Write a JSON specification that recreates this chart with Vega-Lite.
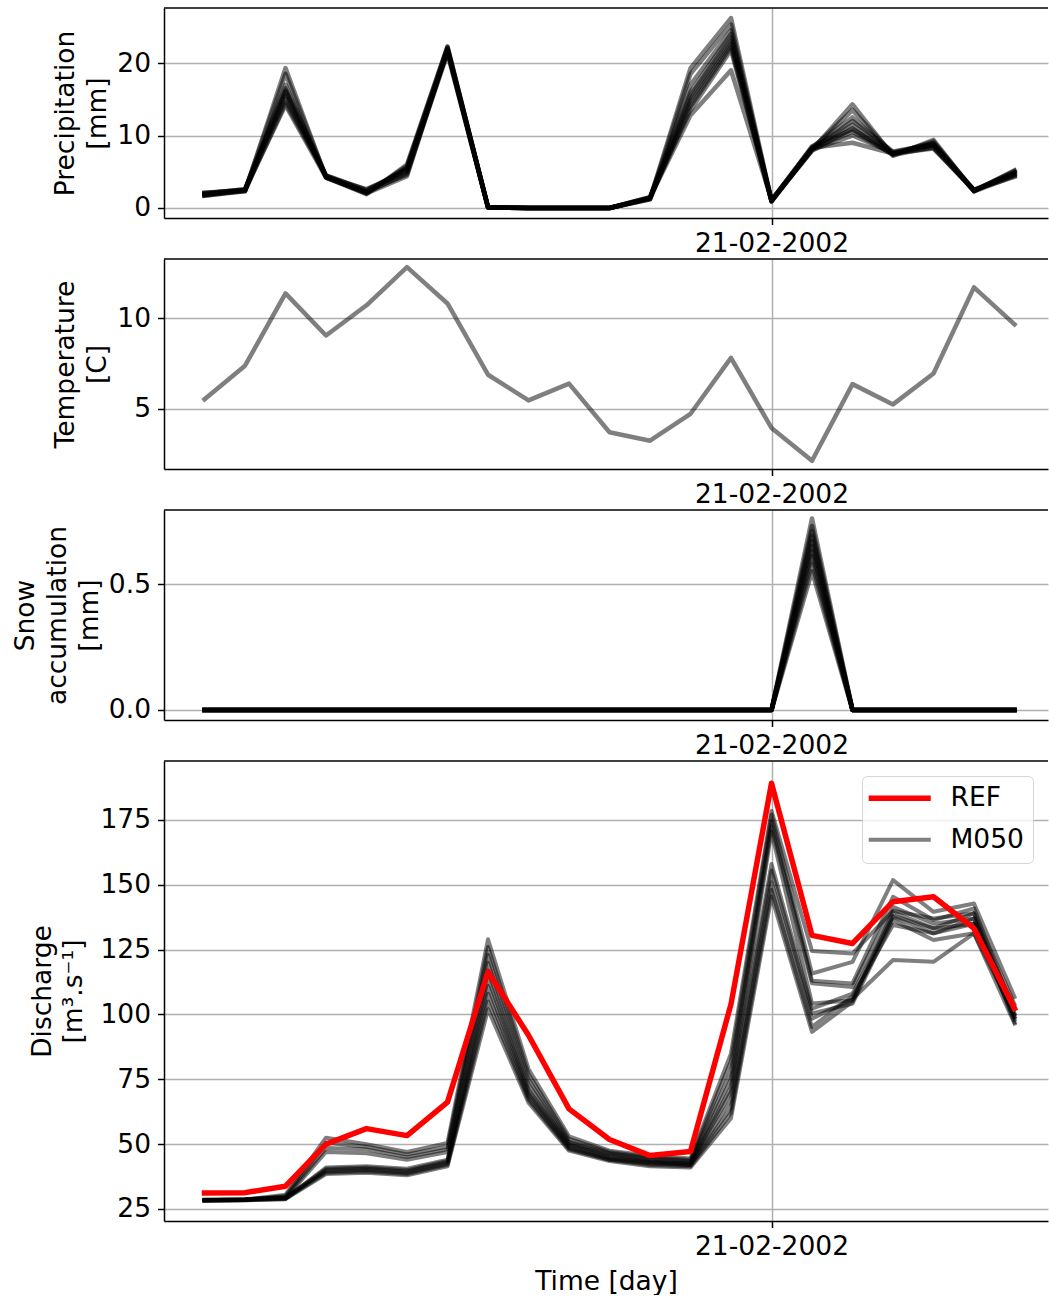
{
  "$schema": "https://vega.github.io/schema/vega-lite/v6.json",
  "padding": {"left": 12, "top": 7, "right": 0, "bottom": 0},
  "bounds": "flush",
  "spacing": 41,
  "config": {
    "font": "DejaVu Sans",
    "view": {"stroke": null},
    "axis": {
      "labelFont": "DejaVu Sans",
      "titleFont": "DejaVu Sans",
      "labelFontSize": 26.5,
      "titleFontSize": 26.5,
      "titleFontWeight": "normal",
      "labelColor": "#000000",
      "titleColor": "#000000",
      "tickColor": "#000000",
      "tickSize": 6.5,
      "tickWidth": 1.5,
      "domainColor": "#000000",
      "domainWidth": 1.5,
      "gridColor": "#b0b0b0",
      "gridWidth": 1.5,
      "labelPadding": 7,
      "titleLineHeight": 31.8,
      "titlePadding": 5
    }
  },
  "datasets": {
    "precip": [
      {"date": "2002-02-07", "m01": 1.7, "m02": 1.8, "m03": 1.9, "m04": 2.0, "m05": 2.1, "m06": 1.8, "m07": 1.9, "m08": 2.0, "m09": 1.7, "m10": 2.1},
      {"date": "2002-02-08", "m01": 2.3, "m02": 2.4, "m03": 2.5, "m04": 2.6, "m05": 2.4, "m06": 2.5, "m07": 2.3, "m08": 2.6, "m09": 2.4, "m10": 2.5},
      {"date": "2002-02-09", "m01": 19.3, "m02": 18.5, "m03": 17.0, "m04": 16.5, "m05": 16.2, "m06": 16.0, "m07": 15.5, "m08": 15.0, "m09": 14.5, "m10": 14.2},
      {"date": "2002-02-10", "m01": 4.2, "m02": 4.3, "m03": 4.4, "m04": 4.5, "m05": 4.3, "m06": 4.2, "m07": 4.4, "m08": 4.3, "m09": 4.5, "m10": 4.2},
      {"date": "2002-02-11", "m01": 1.9, "m02": 2.0, "m03": 2.2, "m04": 2.4, "m05": 2.6, "m06": 2.1, "m07": 2.3, "m08": 2.0, "m09": 2.5, "m10": 2.2},
      {"date": "2002-02-12", "m01": 6.0, "m02": 5.8, "m03": 5.5, "m04": 5.2, "m05": 5.0, "m06": 4.8, "m07": 4.6, "m08": 4.4, "m09": 5.3, "m10": 5.6},
      {"date": "2002-02-13", "m01": 22.3, "m02": 22.1, "m03": 21.9, "m04": 21.7, "m05": 21.5, "m06": 21.3, "m07": 22.0, "m08": 21.8, "m09": 21.6, "m10": 22.2},
      {"date": "2002-02-14", "m01": 0.1, "m02": 0.05, "m03": 0.15, "m04": 0.1, "m05": 0.1, "m06": 0.05, "m07": 0.1, "m08": 0.15, "m09": 0.1, "m10": 0.1},
      {"date": "2002-02-15", "m01": 0, "m02": 0, "m03": 0, "m04": 0, "m05": 0, "m06": 0, "m07": 0, "m08": 0, "m09": 0, "m10": 0},
      {"date": "2002-02-16", "m01": 0, "m02": 0, "m03": 0, "m04": 0, "m05": 0, "m06": 0, "m07": 0, "m08": 0, "m09": 0, "m10": 0},
      {"date": "2002-02-17", "m01": 0, "m02": 0, "m03": 0, "m04": 0, "m05": 0, "m06": 0, "m07": 0, "m08": 0, "m09": 0, "m10": 0},
      {"date": "2002-02-18", "m01": 1.3, "m02": 1.2, "m03": 1.4, "m04": 1.5, "m05": 1.3, "m06": 1.2, "m07": 1.4, "m08": 1.3, "m09": 1.5, "m10": 1.4},
      {"date": "2002-02-19", "m01": 19.3, "m02": 18.5, "m03": 17.0, "m04": 16.0, "m05": 15.5, "m06": 15.0, "m07": 14.5, "m08": 14.0, "m09": 13.5, "m10": 12.8},
      {"date": "2002-02-20", "m01": 26.2, "m02": 25.3, "m03": 24.5, "m04": 24.0, "m05": 23.5, "m06": 23.0, "m07": 22.6, "m08": 22.2, "m09": 21.8, "m10": 19.0},
      {"date": "2002-02-21", "m01": 1.0, "m02": 0.9, "m03": 1.1, "m04": 1.0, "m05": 0.9, "m06": 1.1, "m07": 1.0, "m08": 1.0, "m09": 0.9, "m10": 1.1},
      {"date": "2002-02-22", "m01": 8.0, "m02": 8.2, "m03": 8.4, "m04": 8.1, "m05": 8.3, "m06": 7.9, "m07": 8.5, "m08": 8.2, "m09": 8.0, "m10": 8.3},
      {"date": "2002-02-23", "m01": 14.3, "m02": 13.5, "m03": 12.5, "m04": 12.0, "m05": 11.5, "m06": 11.0, "m07": 10.8, "m08": 10.5, "m09": 10.0, "m10": 9.0},
      {"date": "2002-02-24", "m01": 7.2, "m02": 7.4, "m03": 7.6, "m04": 7.8, "m05": 7.5, "m06": 7.3, "m07": 7.7, "m08": 7.4, "m09": 7.6, "m10": 7.5},
      {"date": "2002-02-25", "m01": 9.4, "m02": 9.2, "m03": 9.0, "m04": 8.8, "m05": 8.6, "m06": 8.4, "m07": 8.7, "m08": 8.9, "m09": 8.3, "m10": 8.2},
      {"date": "2002-02-26", "m01": 2.3, "m02": 2.4, "m03": 2.5, "m04": 2.4, "m05": 2.3, "m06": 2.5, "m07": 2.4, "m08": 2.3, "m09": 2.4, "m10": 2.5},
      {"date": "2002-02-27", "m01": 5.2, "m02": 5.0, "m03": 4.8, "m04": 4.6, "m05": 4.4, "m06": 4.3, "m07": 5.1, "m08": 4.9, "m09": 4.7, "m10": 4.5}
    ],
    "temp": [
      {"date": "2002-02-07", "t": 5.52},
      {"date": "2002-02-08", "t": 7.38},
      {"date": "2002-02-09", "t": 11.38},
      {"date": "2002-02-10", "t": 9.05},
      {"date": "2002-02-11", "t": 10.72},
      {"date": "2002-02-12", "t": 12.83},
      {"date": "2002-02-13", "t": 10.82},
      {"date": "2002-02-14", "t": 6.88},
      {"date": "2002-02-15", "t": 5.46},
      {"date": "2002-02-16", "t": 6.39},
      {"date": "2002-02-17", "t": 3.7},
      {"date": "2002-02-18", "t": 3.23},
      {"date": "2002-02-19", "t": 4.72},
      {"date": "2002-02-20", "t": 7.81},
      {"date": "2002-02-21", "t": 3.94},
      {"date": "2002-02-22", "t": 2.12},
      {"date": "2002-02-23", "t": 6.36},
      {"date": "2002-02-24", "t": 5.24},
      {"date": "2002-02-25", "t": 6.95},
      {"date": "2002-02-26", "t": 11.71},
      {"date": "2002-02-27", "t": 9.67}
    ],
    "snow": [
      {"date": "2002-02-07", "m01": 0, "m02": 0, "m03": 0, "m04": 0, "m05": 0, "m06": 0, "m07": 0, "m08": 0, "m09": 0, "m10": 0},
      {"date": "2002-02-08", "m01": 0, "m02": 0, "m03": 0, "m04": 0, "m05": 0, "m06": 0, "m07": 0, "m08": 0, "m09": 0, "m10": 0},
      {"date": "2002-02-09", "m01": 0, "m02": 0, "m03": 0, "m04": 0, "m05": 0, "m06": 0, "m07": 0, "m08": 0, "m09": 0, "m10": 0},
      {"date": "2002-02-10", "m01": 0, "m02": 0, "m03": 0, "m04": 0, "m05": 0, "m06": 0, "m07": 0, "m08": 0, "m09": 0, "m10": 0},
      {"date": "2002-02-11", "m01": 0, "m02": 0, "m03": 0, "m04": 0, "m05": 0, "m06": 0, "m07": 0, "m08": 0, "m09": 0, "m10": 0},
      {"date": "2002-02-12", "m01": 0, "m02": 0, "m03": 0, "m04": 0, "m05": 0, "m06": 0, "m07": 0, "m08": 0, "m09": 0, "m10": 0},
      {"date": "2002-02-13", "m01": 0, "m02": 0, "m03": 0, "m04": 0, "m05": 0, "m06": 0, "m07": 0, "m08": 0, "m09": 0, "m10": 0},
      {"date": "2002-02-14", "m01": 0, "m02": 0, "m03": 0, "m04": 0, "m05": 0, "m06": 0, "m07": 0, "m08": 0, "m09": 0, "m10": 0},
      {"date": "2002-02-15", "m01": 0, "m02": 0, "m03": 0, "m04": 0, "m05": 0, "m06": 0, "m07": 0, "m08": 0, "m09": 0, "m10": 0},
      {"date": "2002-02-16", "m01": 0, "m02": 0, "m03": 0, "m04": 0, "m05": 0, "m06": 0, "m07": 0, "m08": 0, "m09": 0, "m10": 0},
      {"date": "2002-02-17", "m01": 0, "m02": 0, "m03": 0, "m04": 0, "m05": 0, "m06": 0, "m07": 0, "m08": 0, "m09": 0, "m10": 0},
      {"date": "2002-02-18", "m01": 0, "m02": 0, "m03": 0, "m04": 0, "m05": 0, "m06": 0, "m07": 0, "m08": 0, "m09": 0, "m10": 0},
      {"date": "2002-02-19", "m01": 0, "m02": 0, "m03": 0, "m04": 0, "m05": 0, "m06": 0, "m07": 0, "m08": 0, "m09": 0, "m10": 0},
      {"date": "2002-02-20", "m01": 0, "m02": 0, "m03": 0, "m04": 0, "m05": 0, "m06": 0, "m07": 0, "m08": 0, "m09": 0, "m10": 0},
      {"date": "2002-02-21", "m01": 0, "m02": 0, "m03": 0, "m04": 0, "m05": 0, "m06": 0, "m07": 0, "m08": 0, "m09": 0, "m10": 0},
      {"date": "2002-02-22", "m01": 0.76, "m02": 0.73, "m03": 0.71, "m04": 0.69, "m05": 0.67, "m06": 0.65, "m07": 0.63, "m08": 0.61, "m09": 0.58, "m10": 0.55},
      {"date": "2002-02-23", "m01": 0, "m02": 0, "m03": 0, "m04": 0, "m05": 0, "m06": 0, "m07": 0, "m08": 0, "m09": 0, "m10": 0},
      {"date": "2002-02-24", "m01": 0, "m02": 0, "m03": 0, "m04": 0, "m05": 0, "m06": 0, "m07": 0, "m08": 0, "m09": 0, "m10": 0},
      {"date": "2002-02-25", "m01": 0, "m02": 0, "m03": 0, "m04": 0, "m05": 0, "m06": 0, "m07": 0, "m08": 0, "m09": 0, "m10": 0},
      {"date": "2002-02-26", "m01": 0, "m02": 0, "m03": 0, "m04": 0, "m05": 0, "m06": 0, "m07": 0, "m08": 0, "m09": 0, "m10": 0},
      {"date": "2002-02-27", "m01": 0, "m02": 0, "m03": 0, "m04": 0, "m05": 0, "m06": 0, "m07": 0, "m08": 0, "m09": 0, "m10": 0}
    ],
    "discharge": [
      {"date": "2002-02-07", "ref": 31.2, "m01": 28.5, "m02": 28.3, "m03": 28.6, "m04": 28.4, "m05": 28.2, "m06": 28.5, "m07": 28.3, "m08": 28.6, "m09": 28.4, "m10": 28.2},
      {"date": "2002-02-08", "ref": 31.3, "m01": 28.6, "m02": 28.5, "m03": 28.8, "m04": 28.7, "m05": 28.4, "m06": 28.6, "m07": 28.5, "m08": 28.8, "m09": 28.7, "m10": 28.4},
      {"date": "2002-02-09", "ref": 33.8, "m01": 30.5, "m02": 30.0, "m03": 29.5, "m04": 29.2, "m05": 29.0, "m06": 29.4, "m07": 28.9, "m08": 29.6, "m09": 29.1, "m10": 28.8},
      {"date": "2002-02-10", "ref": 50.0, "m01": 52.5, "m02": 50.5, "m03": 48.5, "m04": 47.0, "m05": 41.0, "m06": 40.5, "m07": 40.0, "m08": 39.5, "m09": 39.0, "m10": 38.5},
      {"date": "2002-02-11", "ref": 56.0, "m01": 50.0, "m02": 49.0, "m03": 48.0, "m04": 46.5, "m05": 41.5, "m06": 41.0, "m07": 40.5, "m08": 40.0, "m09": 39.5, "m10": 39.0},
      {"date": "2002-02-12", "ref": 53.3, "m01": 47.0, "m02": 46.0, "m03": 45.0, "m04": 44.0, "m05": 40.5, "m06": 40.0, "m07": 39.5, "m08": 39.0, "m09": 38.5, "m10": 38.0},
      {"date": "2002-02-13", "ref": 66.2, "m01": 50.5, "m02": 49.0, "m03": 48.0, "m04": 47.0, "m05": 44.0, "m06": 43.5, "m07": 43.0, "m08": 42.5, "m09": 42.0, "m10": 41.5},
      {"date": "2002-02-14", "ref": 116.5, "m01": 129.0, "m02": 126.0, "m03": 123.0, "m04": 120.0, "m05": 117.0, "m06": 114.0, "m07": 111.0, "m08": 108.0, "m09": 105.0, "m10": 102.0},
      {"date": "2002-02-15", "ref": 92.0, "m01": 79.0, "m02": 77.0, "m03": 75.0, "m04": 73.0, "m05": 71.0, "m06": 70.0, "m07": 69.0, "m08": 68.0, "m09": 67.0, "m10": 66.0},
      {"date": "2002-02-16", "ref": 63.6, "m01": 53.0, "m02": 52.0, "m03": 51.0, "m04": 50.5, "m05": 50.0, "m06": 49.5, "m07": 49.0, "m08": 48.5, "m09": 48.0, "m10": 47.5},
      {"date": "2002-02-17", "ref": 51.8, "m01": 47.5, "m02": 47.0, "m03": 46.5, "m04": 46.0, "m05": 45.5, "m06": 45.0, "m07": 44.5, "m08": 44.0, "m09": 44.0, "m10": 43.5},
      {"date": "2002-02-18", "ref": 45.6, "m01": 45.5, "m02": 45.0, "m03": 44.5, "m04": 44.0, "m05": 43.5, "m06": 43.0, "m07": 43.0, "m08": 42.5, "m09": 42.0, "m10": 41.5},
      {"date": "2002-02-19", "ref": 47.2, "m01": 44.5, "m02": 44.0, "m03": 43.5, "m04": 43.0, "m05": 42.5, "m06": 42.5, "m07": 42.0, "m08": 42.0, "m09": 41.5, "m10": 41.0},
      {"date": "2002-02-20", "ref": 104.0, "m01": 85.0, "m02": 82.0, "m03": 78.0, "m04": 75.0, "m05": 72.0, "m06": 70.0, "m07": 67.0, "m08": 64.0, "m09": 62.0, "m10": 60.0},
      {"date": "2002-02-21", "ref": 189.2, "m01": 178.5, "m02": 177.0, "m03": 174.5, "m04": 172.5, "m05": 170.5, "m06": 158.0, "m07": 155.5, "m08": 151.0, "m09": 148.0, "m10": 145.5},
      {"date": "2002-02-22", "ref": 130.5, "m01": 124.5, "m02": 115.8, "m03": 113.0, "m04": 112.0, "m05": 104.2, "m06": 102.3, "m07": 100.4, "m08": 98.4, "m09": 95.2, "m10": 93.3},
      {"date": "2002-02-23", "ref": 127.4, "m01": 123.5, "m02": 120.3, "m03": 112.0, "m04": 110.6, "m05": 105.5, "m06": 108.0, "m07": 104.2, "m08": 106.0, "m09": 107.0, "m10": 105.0},
      {"date": "2002-02-24", "ref": 143.5, "m01": 140.0, "m02": 151.8, "m03": 145.4, "m04": 141.5, "m05": 139.6, "m06": 137.7, "m07": 136.4, "m08": 121.0, "m09": 134.5, "m10": 138.0},
      {"date": "2002-02-25", "ref": 145.4, "m01": 137.0, "m02": 139.6, "m03": 136.4, "m04": 135.0, "m05": 133.2, "m06": 131.3, "m07": 128.7, "m08": 120.3, "m09": 131.3, "m10": 133.2},
      {"date": "2002-02-26", "ref": 133.2, "m01": 139.0, "m02": 142.8, "m03": 140.9, "m04": 137.0, "m05": 135.0, "m06": 137.0, "m07": 131.3, "m08": 131.3, "m09": 135.0, "m10": 139.0},
      {"date": "2002-02-27", "ref": 102.3, "m01": 104.0, "m02": 106.8, "m03": 100.4, "m04": 99.0, "m05": 98.0, "m06": 97.0, "m07": 96.5, "m08": 100.0, "m09": 102.9, "m10": 99.0}
    ]
  },
  "vconcat": [
    {
      "width": 884,
      "height": 210,
      "layer": [
        {
          "data": {"name": "precip"},
          "transform": [{"fold": ["m01", "m02", "m03", "m04", "m05", "m06", "m07", "m08", "m09", "m10"], "as": ["member", "value"]}],
          "mark": {"type": "line", "color": "#000000", "opacity": 0.5, "strokeWidth": 4.5, "strokeJoin": "round", "strokeCap": "square"},
          "encoding": {
            "x": {"field": "date", "type": "temporal",
              "scale": {"type": "utc", "domain": [{"year": 2002, "month": 2, "date": 6, "utc": true}, {"year": 2002, "month": 2, "date": 27, "hours": 19, "minutes": 51, "utc": true}]},
              "axis": {"values": [{"year": 2002, "month": 2, "date": 21, "utc": true}], "format": "%d-%m-%Y", "title": null, "grid": true, "labelFlush": false, "labelOverlap": false, "labelPadding": 6}},
            "y": {"field": "value", "type": "quantitative",
              "scale": {"domain": [-1.38, 27.59], "nice": false, "zero": false},
              "axis": {"values": [0, 10, 20], "title": ["Precipitation", "[mm]"]}},
            "detail": {"field": "member", "type": "nominal"}
          }
        },
        {
          "data": {"values": [{}]},
          "mark": {"type": "rule", "color": "#000000", "strokeWidth": 1.5},
          "encoding": {"y": {"datum": 27.59}}
        }
      ]
    },
    {
      "width": 884,
      "height": 210,
      "layer": [
        {
          "data": {"name": "temp"},
          "mark": {"type": "line", "color": "#000000", "opacity": 0.5, "strokeWidth": 4.5, "strokeJoin": "round", "strokeCap": "square"},
          "encoding": {
            "x": {"field": "date", "type": "temporal",
              "scale": {"type": "utc", "domain": [{"year": 2002, "month": 2, "date": 6, "utc": true}, {"year": 2002, "month": 2, "date": 27, "hours": 19, "minutes": 51, "utc": true}]},
              "axis": {"values": [{"year": 2002, "month": 2, "date": 21, "utc": true}], "format": "%d-%m-%Y", "title": null, "grid": true, "labelFlush": false, "labelOverlap": false, "labelPadding": 6}},
            "y": {"field": "t", "type": "quantitative",
              "scale": {"domain": [1.667, 13.28], "nice": false, "zero": false},
              "axis": {"values": [5, 10], "title": ["Temperature", "[C]"]}}
          }
        },
        {
          "data": {"values": [{}]},
          "mark": {"type": "rule", "color": "#000000", "strokeWidth": 1.5},
          "encoding": {"y": {"datum": 13.28}}
        }
      ]
    },
    {
      "width": 884,
      "height": 210,
      "layer": [
        {
          "data": {"name": "snow"},
          "transform": [{"fold": ["m01", "m02", "m03", "m04", "m05", "m06", "m07", "m08", "m09", "m10"], "as": ["member", "value"]}],
          "mark": {"type": "line", "color": "#000000", "opacity": 0.5, "strokeWidth": 4.5, "strokeJoin": "round", "strokeCap": "square"},
          "encoding": {
            "x": {"field": "date", "type": "temporal",
              "scale": {"type": "utc", "domain": [{"year": 2002, "month": 2, "date": 6, "utc": true}, {"year": 2002, "month": 2, "date": 27, "hours": 19, "minutes": 51, "utc": true}]},
              "axis": {"values": [{"year": 2002, "month": 2, "date": 21, "utc": true}], "format": "%d-%m-%Y", "title": null, "grid": true, "labelFlush": false, "labelOverlap": false, "labelPadding": 6}},
            "y": {"field": "value", "type": "quantitative",
              "scale": {"domain": [-0.0397, 0.7937], "nice": false, "zero": false},
              "axis": {"values": [0, 0.5], "format": ".1f", "title": ["Snow", "accumulation", "[mm]"]}},
            "detail": {"field": "member", "type": "nominal"}
          }
        },
        {
          "data": {"values": [{}]},
          "mark": {"type": "rule", "color": "#000000", "strokeWidth": 1.5},
          "encoding": {"y": {"datum": 0.7937}}
        }
      ]
    },
    {
      "width": 884,
      "height": 460,
      "layer": [
        {
          "data": {"name": "discharge"},
          "transform": [{"fold": ["m01", "m02", "m03", "m04", "m05", "m06", "m07", "m08", "m09", "m10"], "as": ["member", "value"]}],
          "mark": {"type": "line", "color": "#000000", "opacity": 0.5, "strokeWidth": 4, "strokeJoin": "round", "strokeCap": "square"},
          "encoding": {
            "x": {"field": "date", "type": "temporal",
              "scale": {"type": "utc", "domain": [{"year": 2002, "month": 2, "date": 6, "utc": true}, {"year": 2002, "month": 2, "date": 27, "hours": 19, "minutes": 51, "utc": true}]},
              "axis": {"values": [{"year": 2002, "month": 2, "date": 21, "utc": true}], "format": "%d-%m-%Y", "title": "Time [day]", "grid": true, "labelFlush": false, "labelOverlap": false, "labelPadding": 6, "titlePadding": 8}},
            "y": {"field": "value", "type": "quantitative",
              "scale": {"domain": [20.37, 197.75], "nice": false, "zero": false},
              "axis": {"values": [25, 50, 75, 100, 125, 150, 175], "title": ["Discharge", "[m³.s⁻¹]"], "titlePadding": 12}},
            "detail": {"field": "member", "type": "nominal"}
          }
        },
        {
          "data": {"name": "discharge"},
          "mark": {"type": "line", "strokeWidth": 5.5, "strokeJoin": "round", "strokeCap": "square"},
          "encoding": {
            "x": {"field": "date", "type": "temporal"},
            "y": {"field": "ref", "type": "quantitative"},
            "color": {"datum": "REF", "type": "nominal",
              "scale": {"domain": ["REF", "M050"], "range": ["#ff0000", "#808080"]},
              "legend": {"title": null, "orient": "none", "legendX": 698, "legendY": 768,
                "symbolType": "M-1,0H3", "symbolSize": 961, "symbolStrokeWidth": 5,
                "labelFont": "DejaVu Sans", "labelFontSize": 26.5, "labelColor": "#000000", "labelOffset": 53,
                "padding": 9, "rowPadding": 14.5,
                "fillColor": "rgba(255,255,255,0.8)", "strokeColor": "rgba(204,204,204,0.8)", "cornerRadius": 5,
                "encode": {"symbols": {"update": {"strokeWidth": {"signal": "datum.value === 'M050' ? 4 : 5.5"}}}}}}
          }
        },
        {
          "data": {"values": [{}]},
          "mark": {"type": "rule", "color": "#000000", "strokeWidth": 1.5},
          "encoding": {"y": {"datum": 197.75}}
        }
      ]
    }
  ]
}
